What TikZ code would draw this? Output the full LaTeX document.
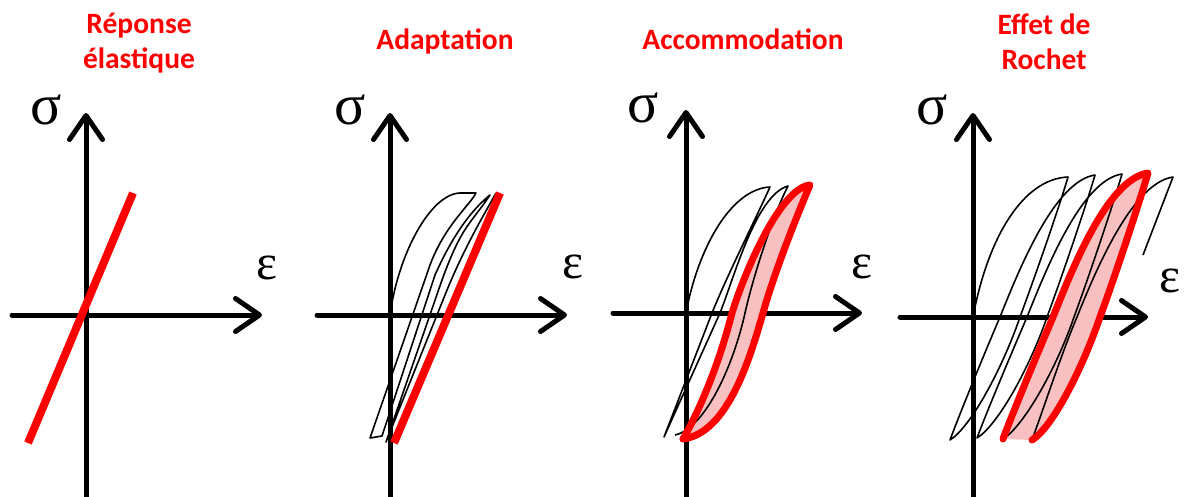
\documentclass[tikz,border=0pt]{standalone}
\usepackage{fontspec}
\setmainfont{Carlito}
\newfontfamily\greekfont{Liberation Serif}
\usepackage{tikz}
\usetikzlibrary{arrows.meta,positioning}
\definecolor{curvered}{RGB}{255,0,0}
\definecolor{loopfill}{RGB}{248,192,192}

\begin{document}
\begin{tikzpicture}[
    x=1pt, y=-1pt,
    paneltitle/.style={text=curvered, font=\fontsize{29.5}{35}\selectfont\bfseries, align=center, inner sep=0pt},
    sigmalabel/.style={font=\fontsize{58}{58}\selectfont\greekfont, inner sep=0pt},
    epslabel/.style={font=\fontsize{50}{50}\selectfont\greekfont, inner sep=0pt},
    axisline/.style={line width=5pt, line cap=round, -{Straight Barb[length=24pt, width=33pt, round]}},
    hyst/.style={line width=1.6pt, line join=round},
    redline/.style={draw=curvered, line width=8pt},
    redloop/.style={draw=curvered, line width=7pt, line join=round, line cap=round}
]
\useasboundingbox (0,0) rectangle (1186,497);

\node[paneltitle] (t1) at (139,43) {Réponse\\élastique};
\node[paneltitle, anchor=base] (t2) at (445,50) {Adaptation};
\node[paneltitle, anchor=base] (t3) at (743,50) {Accommodation};
\node[paneltitle] (t4) at (1044,42) {Effet de\\Rochet};

\begin{scope}[shift={(86,315)}]
\coordinate (xa1) at (-74,0);
\coordinate (xb1) at (176,0);
\coordinate (ya1) at (0,184);
\coordinate (yb1) at (0,-202);
\draw[axisline] (xa1) -- (xb1);
\draw[axisline] (ya1) -- (yb1);
\node[sigmalabel] (sig1) at (-40,-205) {σ};
\node[epslabel] (eps1) at (181,-47) {ε};
\coordinate (ra1) at (-58,128);
\coordinate (rb1) at (47,-122);
\draw[redline] (ra1) -- (rb1);
\end{scope}

\begin{scope}[shift={(390,315)}]
\coordinate (xa2) at (-73,0);
\coordinate (xb2) at (177,0);
\coordinate (ya2) at (0,184);
\coordinate (yb2) at (0,-202);
\draw[axisline] (xa2) -- (xb2);
\draw[axisline] (ya2) -- (yb2);
\node[sigmalabel] (sig2) at (-40,-205) {σ};
\node[epslabel] (eps2) at (183,-48) {ε};
\draw[hyst] (0,0) .. controls (8,-60) and (40,-121) .. (70,-122) -- (86,-122)
    .. controls +(-6,12) and +(15,-40) .. (40,-50) -- (-20,123) -- (-8,121)
    -- (45,-40) .. controls +(20,-45) and +(-15,12) .. (100,-120)
    .. controls +(-20,30) and +(20,-55) .. (52,-35) -- (-4,127)
    -- (55,-20) .. controls +(20,-50) and +(-8,15) .. (106,-122);
\coordinate (ra2) at (4,128);
\coordinate (rb2) at (110,-122);
\draw[redline] (ra2) -- (rb2);
\end{scope}

\begin{scope}[shift={(686,313)}]
\coordinate (xa3) at (-73,0);
\coordinate (xb3) at (176,0);
\coordinate (ya3) at (0,186);
\coordinate (yb3) at (0,-203);
\draw[axisline] (xa3) -- (xb3);
\draw[axisline] (ya3) -- (yb3);
\node[sigmalabel] (sig3) at (-43,-205) {σ};
\node[epslabel] (eps3) at (176,-46) {ε};
\fill[loopfill] (-3,126) .. controls (12,100) and (32,55) .. (46,0)
    .. controls (60,-45) and (95,-125) .. (124,-128)
    .. controls (112,-100) and (88,-40) .. (77,0)
    .. controls (64,45) and (42,120) .. (-3,126) -- cycle;
\draw[hyst] (0,0) .. controls (12,-65) and (45,-124) .. (84,-126)
    .. controls (70,-95) and (40,-35) .. (26,0) -- (-22,124)
    -- (34,0) .. controls (48,-35) and (70,-118) .. (102,-127)
    .. controls (88,-100) and (68,-40) .. (59,0)
    .. controls (48,50) and (20,115) .. (-11,122);
\draw[redloop] (-3,126) .. controls (12,100) and (32,55) .. (46,0)
    .. controls (60,-45) and (95,-125) .. (124,-128)
    .. controls (112,-100) and (88,-40) .. (77,0)
    .. controls (64,45) and (42,120) .. (-3,126) -- cycle;
\end{scope}

\begin{scope}[shift={(973,317)}]
\coordinate (xa4) at (-73,0);
\coordinate (xb4) at (175,0);
\coordinate (ya4) at (0,182);
\coordinate (yb4) at (0,-204);
\draw[axisline] (xa4) -- (xb4);
\draw[axisline] (ya4) -- (yb4);
\node[sigmalabel] (sig4) at (-41,-207) {σ};
\node[epslabel] (eps4) at (197,-36) {ε};
\fill[loopfill] (30,122) .. controls +(10,-27) and +(-15,35) .. (80,0)
    .. controls +(20,-50) and +(-40,6) .. (175,-144)
    .. controls +(-10,34) and +(13,-35) .. (127,0)
    .. controls +(-17,50) and +(21,-13) .. (59,123) -- cycle;
\draw[hyst] (0,0) .. controls (15,-80) and (50,-138) .. (95,-140)
    .. controls +(-10,34) and +(13,-35) .. (47,0) .. controls +(-17,50) and +(21,-13) .. (-23,123)
    .. controls +(10,-27) and +(-15,35) .. (27,0) .. controls +(20,-50) and +(-40,6) .. (122,-142)
    .. controls +(-10,34) and +(13,-35) .. (74,0) .. controls +(-17,50) and +(21,-13) .. (4,121)
    .. controls +(10,-27) and +(-15,35) .. (54,0) .. controls +(20,-50) and +(-40,6) .. (149,-143)
    .. controls +(-10,34) and +(13,-35) .. (101,0) .. controls +(-17,50) and +(21,-13) .. (30,122);
\draw[hyst] (59,123) .. controls +(10,-27) and +(-15,35) .. (104,0)
    .. controls +(20,-50) and +(-40,6) .. (200,-140) -- (170,-62);
\draw[redloop] (30,122) .. controls +(10,-27) and +(-15,35) .. (80,0)
    .. controls +(20,-50) and +(-40,6) .. (175,-144)
    .. controls +(-10,34) and +(13,-35) .. (127,0)
    .. controls +(-17,50) and +(21,-13) .. (59,123);
\end{scope}
\end{tikzpicture}
\end{document}
